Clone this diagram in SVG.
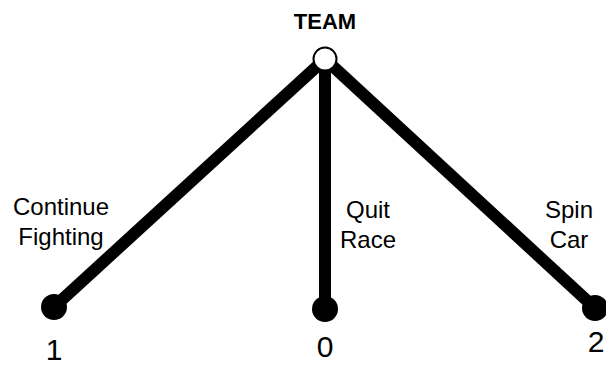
<svg xmlns="http://www.w3.org/2000/svg" width="606" height="365" viewBox="0 0 606 365">
<style>
.edge{stroke:#000;stroke-width:12;fill:none}
.leaf{fill:#000}
.root{fill:#fff;stroke:#000;stroke-width:2}
.lbl{font-family:"Liberation Sans",Arial,sans-serif;font-size:24px;fill:#000;text-anchor:middle}
.num{font-family:"Liberation Sans",Arial,sans-serif;font-size:30px;fill:#000;text-anchor:middle}
.title{font-family:"Liberation Sans",Arial,sans-serif;font-size:22px;font-weight:bold;fill:#000;text-anchor:middle}
</style>
<rect width="606" height="365" fill="#fff"/>
<g id="connectors">
<line class="edge" x1="325" y1="59" x2="54" y2="307"/>
<line class="edge" x1="325" y1="59" x2="325" y2="309"/>
<line class="edge" x1="325" y1="59" x2="595" y2="308"/>
<text class="lbl" x="61" y="215">Continue</text>
<text class="lbl" x="61" y="245">Fighting</text>
<text class="lbl" x="368" y="218">Quit</text>
<text class="lbl" x="368" y="248">Race</text>
<text class="lbl" x="569" y="218">Spin</text>
<text class="lbl" x="569" y="248">Car</text>
</g>
<g id="team">
<circle class="root" cx="325" cy="59" r="11.5"/>
<text class="title" x="325" y="29">TEAM</text>
</g>
<g id="leaf1">
<circle class="leaf" cx="54" cy="307" r="13"/>
<text class="num" x="54" y="360">1</text>
</g>
<g id="leaf0">
<circle class="leaf" cx="325" cy="309" r="13"/>
<text class="num" x="325" y="357">0</text>
</g>
<g id="leaf2">
<circle class="leaf" cx="595" cy="308" r="13"/>
<text class="num" x="596" y="352">2</text>
</g>
</svg>
